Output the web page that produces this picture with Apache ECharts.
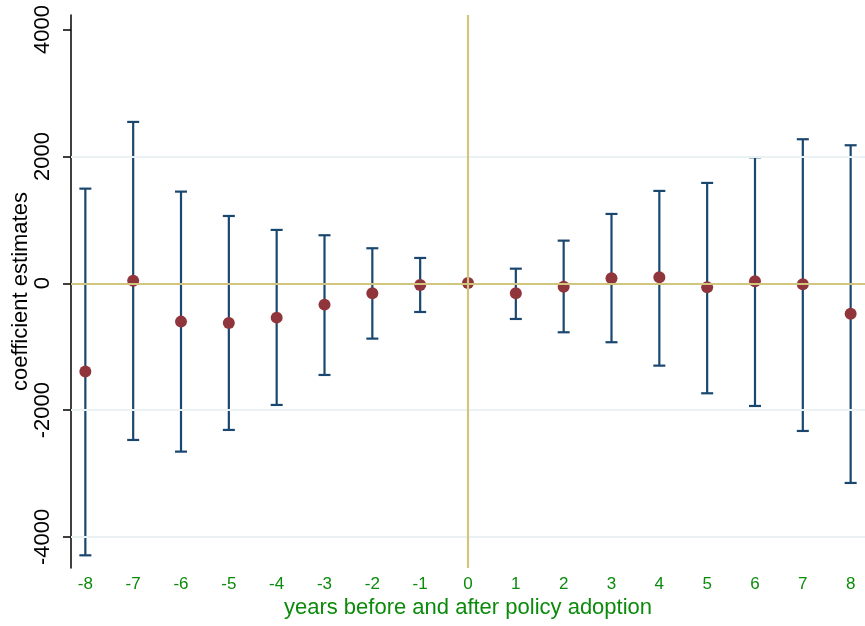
<!DOCTYPE html>
<html>
<head>
<meta charset="utf-8">
<script src="https://cdn.jsdelivr.net/npm/echarts@6/dist/echarts.min.js"></script>
<style>
html,body{margin:0;padding:0;background:#fff;}
#chart{width:865px;height:626px;}
</style>
</head>
<body>
<div id="chart"></div>
<script>
const years = [-8, -7, -6, -5, -4, -3, -2, -1, 0, 1, 2, 3, 4, 5, 6, 7, 8];
const coef  = [-1390, 40, -605, -626, -542, -337, -158, -27, 5, -158, -54, 79, 95, -63, 32, -16, -480];
const upper = [1492, 2544, 1445, 1061, 841, 757, 552, 399, null, 230, 672, 1093, 1456, 1582, 1987, 2271, 2176];
const lower = [-4290, -2471, -2655, -2313, -1919, -1446, -873, -453, null, -563, -773, -930, -1299, -1735, -1935, -2329, -3149];
const yTicks = [-4000, -2000, 0, 2000, 4000];
const gridValues = [-4000, -2000, 2000];

const NAVY = '#1a476f', MAROON = '#90353b', GRID = '#eaf2f3', KHAKI = '#d2c67f', GREEN = '#0b8a0b';
const FONT = 'Liberation Sans, Arial, sans-serif';

const errData = [];
years.forEach((y, i) => { if (upper[i] != null && lower[i] != null) errData.push([y, lower[i], upper[i]]); });
const ptData = years.map((y, i) => [y, coef[i]]);

const chart = echarts.init(document.getElementById('chart'), null, {renderer: 'canvas'});
chart.setOption({
  animation: false,
  backgroundColor: '#ffffff',
  grid: {left: 71, right: 0, top: 15, bottom: 58, containLabel: false, outerBoundsMode: 'none'},
  xAxis: {
    type: 'value', min: -8.3, max: 8.3,
    axisLine: {show: false, onZero: false}, axisTick: {show: false}, splitLine: {show: false},
    axisLabel: {customValues: years, color: GREEN, fontSize: 17, fontFamily: FONT, margin: 8,
      formatter: v => String(v)},
    name: 'years before and after policy adoption', nameLocation: 'middle', nameGap: 29,
    nameMoveOverlap: false,
    nameTextStyle: {color: GREEN, fontSize: 22, fontFamily: FONT}
  },
  yAxis: {
    type: 'value', min: -4490, max: 4230,
    axisLine: {show: true, onZero: false, lineStyle: {color: '#000', width: 1.5}},
    axisTick: {show: true, customValues: yTicks, length: 8, lineStyle: {color: '#000', width: 1.5}},
    splitLine: {show: false},
    axisLabel: {customValues: yTicks, rotate: 90, color: '#000', fontSize: 22, fontFamily: FONT, margin: 17,
      formatter: v => String(v)},
    name: 'coefficient estimates', nameLocation: 'middle', nameGap: 39, nameRotate: 90,
    nameMoveOverlap: false,
    nameTextStyle: {color: '#000', fontSize: 22, fontFamily: FONT}
  },
  series: [
    {
      type: 'line', data: [], silent: true, z: 1,
      markLine: {
        silent: true, symbol: 'none', label: {show: false}, animation: false,
        lineStyle: {color: GRID, width: 2, type: 'solid'},
        data: gridValues.map(v => ({yAxis: v}))
      }
    },
    {
      type: 'line', data: [], silent: true, z: 2,
      markLine: {
        silent: true, symbol: 'none', label: {show: false}, animation: false,
        lineStyle: {color: KHAKI, width: 2.2, type: 'solid'},
        data: [{yAxis: 0}, {xAxis: 0}]
      }
    },
    {
      type: 'custom', z: 3, silent: true,
      data: errData,
      encode: {x: 0, y: [1, 2]},
      renderItem: function (params, api) {
        const x = api.value(0), lo = api.value(1), hi = api.value(2);
        const pTop = api.coord([x, hi]), pBot = api.coord([x, lo]);
        const w = 6;
        const st = {stroke: NAVY, lineWidth: 2.2};
        return {
          type: 'group',
          children: [
            {type: 'line', shape: {x1: pTop[0], y1: pTop[1], x2: pBot[0], y2: pBot[1]}, style: st},
            {type: 'line', shape: {x1: pTop[0] - w, y1: pTop[1], x2: pTop[0] + w, y2: pTop[1]}, style: st},
            {type: 'line', shape: {x1: pBot[0] - w, y1: pBot[1], x2: pBot[0] + w, y2: pBot[1]}, style: st}
          ]
        };
      }
    },
    {
      type: 'scatter', z: 4, data: ptData, symbol: 'circle', symbolSize: 12,
      itemStyle: {color: MAROON, opacity: 1}
    }
  ]
});
</script>
</body>
</html>
